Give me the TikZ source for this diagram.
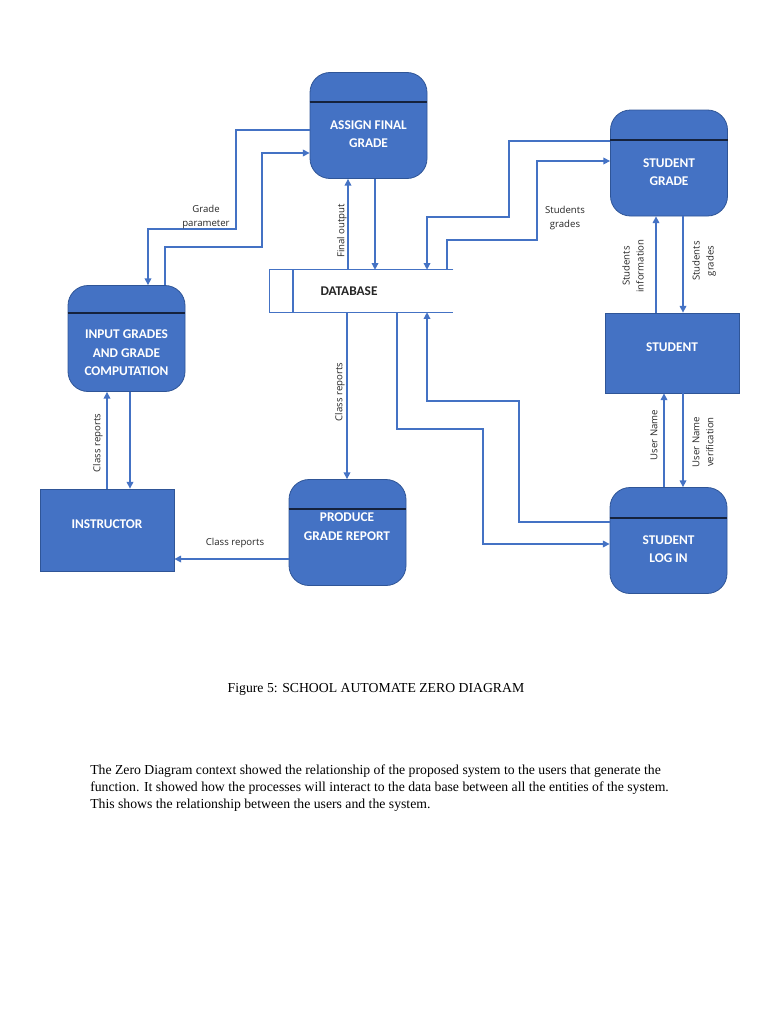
\documentclass[tikz,border=0pt]{standalone}
\usepackage{fontspec}
\setmainfont{Liberation Serif}
\newfontfamily\boxfont{Carlito}
\newfontfamily\labfont{Open Sans}
\usetikzlibrary{arrows.meta}

\definecolor{procblue}{HTML}{4472C4}
\definecolor{rimblue}{HTML}{2F5597}
\definecolor{flowblue}{HTML}{4472C4}
\definecolor{divline}{HTML}{15223D}

\tikzset{
  proc/.style={draw=rimblue, fill=procblue, rounded corners=15pt, line width=0.6pt,
               inner sep=0pt, minimum width=87.75pt, minimum height=79.5pt},
  ent/.style={draw=rimblue, fill=procblue, line width=0.6pt,
              inner sep=0pt, minimum width=100.5pt},
  boxtext/.style={text=white, align=center, inner sep=0pt,
                  font=\boxfont\bfseries\fontsize{10}{13.9}\selectfont},
  flowlabel/.style={align=center, inner sep=0pt, text=black!85,
                    font=\labfont\fontsize{7.2}{10.5}\selectfont},
  flow/.style={draw=flowblue, line width=0.9pt, -{Triangle[length=5pt,width=5pt]}},
  divider/.style={draw=divline, line width=0.8pt},
}

\begin{document}
\begin{tikzpicture}[x=0.75pt,y=-0.75pt]
\useasboundingbox (0,0) rectangle (768,1024);

% processes and entities
\begin{scope}
    \node[proc] (assign)  at (368.5,125.5) {};
    \node[proc] (sgrade)  at (669,163)     {};
    \node[proc] (input)   at (126.5,338.5) {};
    \node[proc] (produce) at (347.5,532.5) {};
    \node[proc] (login)   at (668.5,540.5) {};
    \node[ent, minimum height=61.5pt] (instr)   at (107,530) {};
    \node[ent, minimum height=60pt]   (student) at (672,353) {};
\end{scope}

\draw[divider] (assign.west |- 0,102)  -- (assign.east |- 0,102);
\draw[divider] (sgrade.west |- 0,140)  -- (sgrade.east |- 0,140);
\draw[divider] (input.west |- 0,313)   -- (input.east |- 0,313);
\draw[divider] (produce.west |- 0,509) -- (produce.east |- 0,509);
\draw[divider] (login.west |- 0,518)   -- (login.east |- 0,518);

\begin{scope}[every node/.style={boxtext}]
    \node (assign-t)  at (368.5,134) {ASSIGN FINAL\\GRADE};
    \node (sgrade-t)  at (669,172)   {STUDENT\\GRADE};
    \node (input-t)   at (126.5,353) {INPUT GRADES\\AND GRADE\\COMPUTATION};
    \node (produce-t) at (347,526.5) {PRODUCE\\GRADE REPORT};
    \node (login-t)   at (668.5,549) {STUDENT\\LOG IN};
    \node (instr-t)   at (107,524)   {INSTRUCTOR};
    \node (student-t) at (672,347)   {STUDENT};
\end{scope}

% data store
\node[minimum width=137.25pt, minimum height=31.5pt, inner sep=0pt] (db) at (361.5,291) {};
\draw[draw=flowblue, line width=0.8pt] (db.north east) -- (db.north west) -- (db.south west) -- (db.south east);
\draw[draw=flowblue, line width=0.8pt] (db.north -| 293,0) -- (db.south -| 293,0);
\node[boxtext, text=black!85] (db-t) at (349,291) {DATABASE};

% data flows
\draw[flow] (assign.west |- 0,130) -| (236,229) -| (input.north -| 148,0);
\draw[flow] (input.north -| 165,0) |- (262,247) |- (assign.west |- 0,153);
\draw[flow] (db.north -| 348,0) -- (assign.south -| 348,0);
\draw[flow] (assign.south -| 375,0) -- (db.north -| 375,0);
\draw[flow] (sgrade.west |- 0,141) -| (509,217) -| (db.north -| 427,0);
\draw[flow] (db.north -| 447,0) |- (537,240) |- (sgrade.west |- 0,161);
\draw[flow] (student.north -| 656,0) -- (sgrade.south -| 656,0);
\draw[flow] (sgrade.south -| 683,0) -- (student.north -| 683,0);
\draw[flow] (login.north -| 664,0) -- (student.south -| 664,0);
\draw[flow] (student.south -| 683,0) -- (login.north -| 683,0);
\draw[flow] (login.west |- 0,522) -| (519,401) -| (db.south -| 427,0);
\draw[flow] (db.south -| 397,0) |- (483,429) |- (login.west |- 0,544);
\draw[flow] (db.south -| 347,0) -- (produce.north -| 347,0);
\draw[flow] (produce.west |- 0,559) -- (instr.east |- 0,559);
\draw[flow] (instr.north -| 107,0) -- (input.south -| 107,0);
\draw[flow] (input.south -| 130,0) -- (instr.north -| 130,0);

% flow labels
\begin{scope}[every node/.style={flowlabel}]
    \node (gp)  at (206,217) {Grade\\parameter};
    \node[rotate=90] (fo)  at (342,231) {Final output};
    \node (sg1) at (565,218) {Students\\grades};
    \node[rotate=90] (si)  at (633,266) {Students\\information};
    \node[rotate=90] (sg2) at (704,261) {Students\\grades};
    \node[rotate=90] (un)  at (654,435) {User Name};
    \node[rotate=90] (unv) at (703,442) {User Name\\verification};
    \node[rotate=90] (cr1) at (340,392) {Class reports};
    \node (cr2) at (235,543) {Class reports};
    \node[rotate=90] (cr3) at (98,443)  {Class reports};
\end{scope}

% caption and text
\begin{scope}[every node/.style={inner sep=0pt, anchor=base west, font=\fontsize{10.3}{12.75}\selectfont}]
    \node[anchor=base] (cap) at (376,692) {Figure 5: SCHOOL AUTOMATE ZERO DIAGRAM};
    \node (body1) at (90,774) {The Zero Diagram context showed the relationship of the proposed system to the users that generate the};
    \node (body2) at (90,791) {function. It showed how the processes will interact to the data base between all the entities of the system.};
    \node (body3) at (90,808) {This shows the relationship between the users and the system.};
\end{scope}
\end{tikzpicture}
\end{document}
